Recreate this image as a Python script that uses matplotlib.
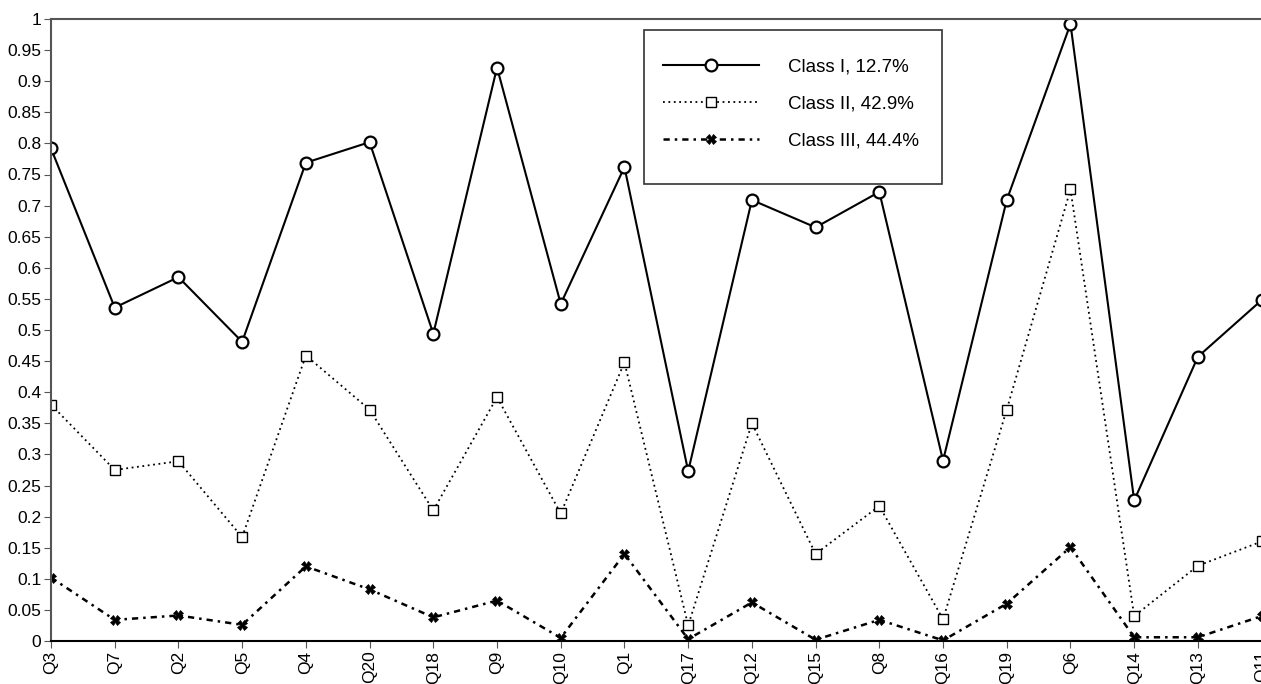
import matplotlib.pyplot as plt
from matplotlib.patches import Rectangle

plt.rcParams['font.family'] = ['Liberation Sans', 'DejaVu Sans']

questions = ['Q3', 'Q7', 'Q2', 'Q5', 'Q4', 'Q20', 'Q18', 'Q9', 'Q10', 'Q1',
             'Q17', 'Q12', 'Q15', 'Q8', 'Q16', 'Q19', 'Q6', 'Q14', 'Q13', 'Q11']
class1 = [0.792, 0.536, 0.585, 0.481, 0.769, 0.802, 0.494, 0.922, 0.542, 0.762,
          0.273, 0.709, 0.665, 0.722, 0.290, 0.709, 0.992, 0.226, 0.457, 0.548]
class2 = [0.380, 0.275, 0.289, 0.167, 0.459, 0.372, 0.210, 0.392, 0.205, 0.448,
          0.025, 0.350, 0.140, 0.217, 0.035, 0.372, 0.726, 0.040, 0.121, 0.160]
class3 = [0.102, 0.034, 0.041, 0.026, 0.120, 0.083, 0.038, 0.065, 0.005, 0.140,
          0.003, 0.062, 0.002, 0.034, 0.001, 0.060, 0.151, 0.006, 0.006, 0.040]
labels = ['Class I, 12.7%', 'Class II, 42.9%', 'Class III, 44.4%']
yticks = [i * 0.05 for i in range(21)]

fig = plt.figure(figsize=(12.61, 6.84), dpi=100)
ax = fig.add_axes([51 / 1261, 43 / 684, 1 - 51 / 1261 + 0.0005, 622 / 684])

x = list(range(len(questions)))
h1, = ax.plot(x, class1, color='black', lw=1.5, ls='-', marker='o', ms=8.5,
              mfc='white', mec='black', mew=1.6, label=labels[0])
h2, = ax.plot(x, class2, color='black', lw=1.3, ls=(0, (1, 2)), marker='s', ms=6.5,
              mfc='white', mec='black', mew=1.0, label=labels[1])
h3, = ax.plot(x, class3, color='black', lw=1.8, ls=(0, (2.5, 2, 1, 2)), marker='X', ms=6.5,
              mfc='black', mec='black', mew=0.5, label=labels[2])

ax.set_xlim(0, len(questions) - 1)
ax.set_ylim(0, 1)
ax.set_xticks(x)
ax.set_xticklabels(questions, rotation=90, fontsize=12.5)
ax.set_yticks(yticks)
ax.set_yticklabels(['0' if v == 0 else ('1' if v == 1 else f'{v:g}') for v in
                    [round(t, 2) for t in yticks]], fontsize=12.5)
ax.tick_params(direction='out', length=5, color='#555555', pad=2)
for side in ['left', 'top', 'bottom']:
    ax.spines[side].set_color('#555555')
    ax.spines[side].set_linewidth(1.5)
ax.spines['bottom'].set_color('black')
ax.spines['right'].set_visible(False)
for s in ax.spines.values():
    s.set_clip_on(False)

# legend box with extra empty room at the bottom
fig.patches.append(Rectangle((644 / 1261, 1 - 184 / 684), 298 / 1261, 154 / 684,
                             transform=fig.transFigure, facecolor='white',
                             edgecolor='#333333', lw=1.2, zorder=5))
leg = fig.legend(handles=[h1, h2, h3], loc='upper left',
                 bbox_to_anchor=(646 / 1261, 1 - 42 / 684), frameon=False,
                 fontsize=13.5, handlelength=5.1, handletextpad=1.6, labelspacing=1.05)
leg.set_zorder(6)

fig.savefig('out.png', dpi=100)
